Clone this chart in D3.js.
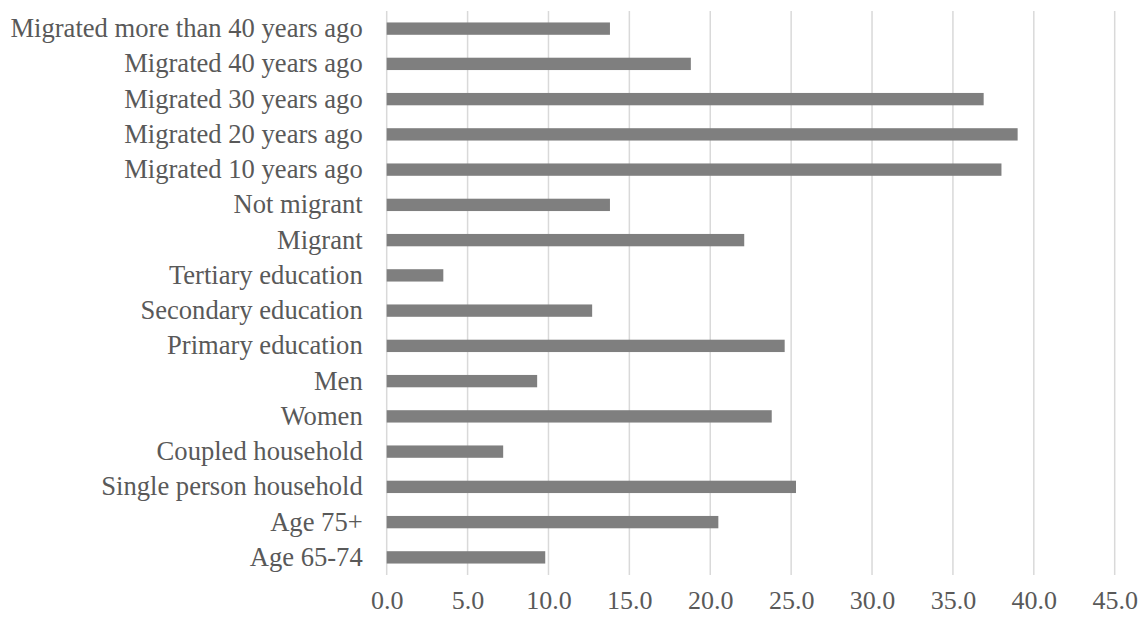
<!DOCTYPE html>
<html>
<head>
<meta charset="utf-8">
<script src="https://cdn.jsdelivr.net/npm/d3@7"></script>
<style>
  html, body { margin: 0; padding: 0; background: #fff; }
  svg { display: block; }
</style>
</head>
<body>
<svg id="chart" width="1141" height="618"></svg>
<script>
// Categories from top to bottom
const categories = [
  "Migrated more than 40 years ago",
  "Migrated 40 years ago",
  "Migrated 30 years ago",
  "Migrated 20 years ago",
  "Migrated 10 years ago",
  "Not migrant",
  "Migrant",
  "Tertiary education",
  "Secondary education",
  "Primary education",
  "Men",
  "Women",
  "Coupled household",
  "Single person household",
  "Age 75+",
  "Age 65-74"
];
const values = [13.8, 18.8, 36.9, 39.0, 38.0, 13.8, 22.1, 3.5, 12.7, 24.6, 9.3, 23.8, 7.2, 25.3, 20.5, 9.8];
const tickValues = [0, 5, 10, 15, 20, 25, 30, 35, 40, 45];

const serif = '"Liberation Serif", "Times New Roman", serif';
const textColor = "#595959";

const svg = d3.select("#chart");
const plot = { left: 386.7, right: 1114.7, top: 11, bottom: 575 };

const x = d3.scaleLinear().domain([0, 45]).range([plot.left, plot.right]);
const y = d3.scaleBand().domain(categories).range([plot.top, plot.bottom]).paddingInner(0.65).paddingOuter(0.325);

// vertical gridlines
svg.append("g")
  .selectAll("line")
  .data(tickValues)
  .join("line")
  .attr("x1", d => x(d)).attr("x2", d => x(d))
  .attr("y1", plot.top).attr("y2", plot.bottom)
  .attr("stroke", "#d9d9d9")
  .attr("stroke-width", 1.5);

// bars
svg.append("g")
  .selectAll("rect")
  .data(values)
  .join("rect")
  .attr("x", x(0))
  .attr("y", (d, i) => y(categories[i]))
  .attr("width", d => x(d) - x(0))
  .attr("height", y.bandwidth())
  .attr("fill", "#7f7f7f");

// category labels
const yAxis = svg.append("g")
  .attr("transform", `translate(${plot.left - 24},0)`)
  .call(d3.axisLeft(y).tickSize(0).tickPadding(0));
yAxis.select(".domain").remove();
yAxis.selectAll("text")
  .style("font-family", serif)
  .style("font-size", "26.6px")
  .attr("fill", textColor);

// value axis labels
const xAxis = svg.append("g")
  .attr("transform", `translate(0,${plot.bottom})`)
  .call(d3.axisBottom(x).tickValues(tickValues).tickFormat(d3.format(".1f")).tickSize(0).tickPadding(16));
xAxis.select(".domain").remove();
xAxis.selectAll("text")
  .style("font-family", serif)
  .style("font-size", "26px")
  .attr("fill", textColor);
</script>
</body>
</html>
